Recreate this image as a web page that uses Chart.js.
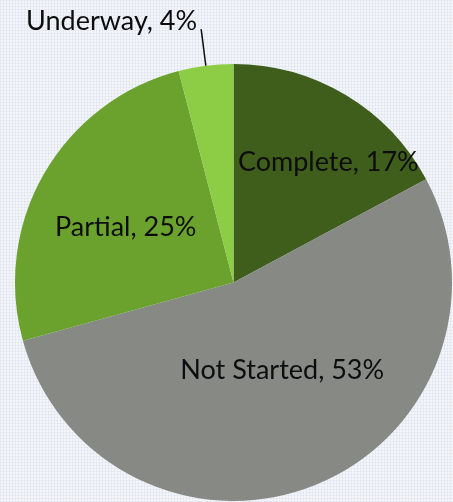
<!DOCTYPE html>
<html>
<head>
<meta charset="utf-8">
<script src="https://cdn.jsdelivr.net/npm/chart.js@4/dist/chart.umd.min.js"></script>
<style>
  html, body { margin: 0; padding: 0; }
  body {
    width: 453px; height: 502px; overflow: hidden;
    background-color: #f3f5f9;
    background-image:
      repeating-linear-gradient(0deg, rgba(205,215,232,0.3) 0 1px, transparent 1px 3px),
      repeating-linear-gradient(90deg, rgba(205,215,232,0.3) 0 1px, transparent 1px 3px);
  }
  canvas { display: block; }
</style>
</head>
<body>
<canvas id="pie" width="453" height="502"></canvas>
<script>
// status split, clockwise from 12 o'clock
const categories = ["Complete", "Not Started", "Partial", "Underway"];
const shares = [17, 53, 25, 4];
const sliceColors = ["#3f5e1b", "#878985", "#6aa22d", "#8dcd45"];

// label placement: fraction of radius, angle nudge (deg); outside = leader line
const labelPlace = [
  {frac: 0.70, nudge: 7.4},
  {frac: 0.46, nudge: -7.2},
  {frac: 0.555, nudge: -2.7},
  {outside: true, leader: 37}
];

const sliceLabels = {
  id: "sliceLabels",
  afterDatasetsDraw(chart) {
    const {ctx} = chart;
    const arcs = chart.getDatasetMeta(0).data;
    ctx.save();
    ctx.font = "27px Lato";
    ctx.fillStyle = "#0d0d0d";
    ctx.strokeStyle = "#0d0d0d";
    ctx.textBaseline = "middle";
    arcs.forEach((arc, i) => {
      const p = arc.getProps(["x", "y", "startAngle", "endAngle", "outerRadius"], true);
      const mid = (p.startAngle + p.endAngle) / 2;
      const txt = categories[i] + ", " + shares[i] + "%";
      const pl = labelPlace[i];
      if (pl.outside) {
        const x1 = p.x + Math.cos(mid) * p.outerRadius;
        const y1 = p.y + Math.sin(mid) * p.outerRadius;
        const x2 = p.x + Math.cos(mid) * (p.outerRadius + pl.leader);
        const y2 = p.y + Math.sin(mid) * (p.outerRadius + pl.leader);
        ctx.lineWidth = 1.5;
        ctx.beginPath();
        ctx.moveTo(x1, y1);
        ctx.lineTo(x2, y2);
        ctx.stroke();
        ctx.textAlign = "right";
        ctx.fillText(txt, x2 - 4, y2 - 8);
      } else {
        const a = mid + pl.nudge * Math.PI / 180;
        const r = p.outerRadius * pl.frac;
        ctx.textAlign = "center";
        ctx.fillText(txt, p.x + Math.cos(a) * r, p.y + Math.sin(a) * r);
      }
    });
    ctx.restore();
  }
};

new Chart(document.getElementById("pie").getContext("2d"), {
  type: "pie",
  data: {
    labels: categories,
    datasets: [{
      data: shares,
      backgroundColor: sliceColors,
      borderWidth: 0
    }]
  },
  options: {
    responsive: false,
    animation: false,
    layout: {padding: {left: 15, right: 1, top: 64, bottom: 1}},
    plugins: {
      legend: {display: false},
      tooltip: {enabled: false}
    }
  },
  plugins: [sliceLabels]
});
</script>
</body>
</html>
